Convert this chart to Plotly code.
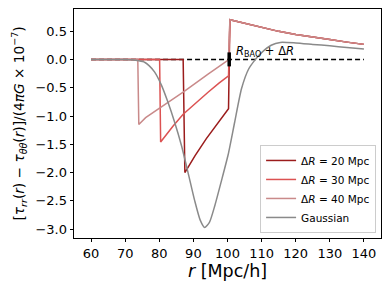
import plotly.graph_objects as go

# ---- data ----
r_tail = [100.7, 105, 110, 115, 120, 125, 130, 135, 140]
v_tail = [0.70, 0.635, 0.56, 0.495, 0.44, 0.39, 0.35, 0.305, 0.265]

r_20 = [60, 87.0, 87.5, 90.5, 93.8, 97.0, 100.3]
v_20 = [0, 0, -2.0, -1.70, -1.40, -1.13, -0.87]

r_30 = [60, 80.1, 80.4, 84.0, 87.0, 90.5, 94.3, 97.5, 100.3]
v_30 = [0, 0, -1.46, -1.18, -0.97, -0.78, -0.58, -0.42, -0.29]

r_40 = [60, 73.7, 74.0, 76.0, 80.3, 87.0, 94.3, 100.3]
v_40 = [0, 0, -1.15, -1.03, -0.85, -0.58, -0.26, -0.01]

r_gauss = [60, 65, 70, 72, 74, 75.7, 77, 78.6, 80.6, 82.5, 84.5, 86.5, 88.4, 90.4,
           92, 93.3, 94.7, 96.3, 98.2, 100.2, 102.1, 104.1, 106.2, 108.2, 110,
           112.8, 115.5, 120, 125, 130, 135, 140]
v_gauss = [0, 0, -0.002, -0.008, -0.025, -0.05, -0.11, -0.22, -0.45, -0.75, -1.11,
           -1.52, -1.99, -2.50, -2.84, -2.97, -2.88, -2.58, -2.15, -1.68, -1.11,
           -0.52, -0.17, 0.0, 0.12, 0.25, 0.30, 0.29, 0.265, 0.24, 0.21, 0.185]

zero_r = [60, 140]
zero_v = [0, 0]
r_bao = [100.5]
v_bao = [0]

labels = ["Δ<i>R</i> = 20 Mpc", "Δ<i>R</i> = 30 Mpc", "Δ<i>R</i> = 40 Mpc", "Gaussian"]
colors = ["#9b1c1c", "#dc5252", "#c98a8a", "#8a8a8a"]

FONT = "DejaVu Sans"

fig = go.Figure()

fig.add_trace(go.Scatter(x=zero_r, y=zero_v, mode="lines",
                         line=dict(color="black", width=1.5, dash="5px,3px"),
                         showlegend=False, hoverinfo="skip"))

for rr, vv, lab, col in [(r_20, v_20, labels[0], colors[0]),
                         (r_30, v_30, labels[1], colors[1]),
                         (r_40, v_40, labels[2], colors[2])]:
    fig.add_trace(go.Scatter(x=rr + r_tail, y=vv + v_tail, mode="lines",
                             line=dict(color=col, width=1.5), name=lab))

fig.add_trace(go.Scatter(x=r_gauss, y=v_gauss, mode="lines",
                         line=dict(color=colors[3], width=1.5, shape="spline", smoothing=0.6),
                         name=labels[3]))

fig.add_trace(go.Scatter(x=r_bao, y=v_bao, mode="markers",
                         marker=dict(symbol="line-ns", size=10,
                                     line=dict(color="black", width=3.5)),
                         showlegend=False, hoverinfo="skip"))

fig.add_annotation(x=102.0, y=0.145, xref="x", yref="y",
                   text="<i>R</i><sub>BAO</sub> + Δ<i>R</i>", showarrow=False,
                   xanchor="left", yanchor="middle",
                   font=dict(family=FONT, size=11.5, color="black"))

axis_common = dict(showline=True, linecolor="black", linewidth=0.8, mirror=True,
                   ticks="outside", ticklen=3.5, tickwidth=0.8, tickcolor="black",
                   showgrid=False, zeroline=False, automargin=False,
                   tickfont=dict(family=FONT, size=13, color="black"))

fig.update_xaxes(range=[55, 145], tickvals=[60, 70, 80, 90, 100, 110, 120, 130, 140],
                 title=dict(text="<i>r</i> [Mpc/h]", font=dict(family=FONT, size=17.5, color="black"),
                            standoff=4),
                 **axis_common)
fig.update_yaxes(range=[-3.155, 0.89],
                 tickvals=[0.5, 0.0, -0.5, -1.0, -1.5, -2.0, -2.5, -3.0],
                 ticktext=["0.5", "0.0", "−0.5", "−1.0", "−1.5", "−2.0", "−2.5", "−3.0"],
                 title=dict(text="[<i>τ</i><sub><i>rr</i></sub>(<i>r</i>) − <i>τ</i><sub><i>θθ</i></sub>(<i>r</i>)]/(4<i>πG</i> × 10<sup>−7</sup>)",
                            font=dict(family=FONT, size=13.7, color="black"), standoff=7),
                 **axis_common)

fig.update_layout(
    width=390, height=292,
    margin=dict(l=74, r=9, t=9, b=54),
    paper_bgcolor="white", plot_bgcolor="white",
    font=dict(family=FONT, color="black"),
    legend=dict(x=0.984, y=0.022, xanchor="right", yanchor="bottom",
                bgcolor="rgba(255,255,255,0.85)", bordercolor="#cccccc", borderwidth=1,
                font=dict(family=FONT, size=10.5, color="black"),
                itemwidth=30, tracegroupgap=0),
)

fig.write_html("out.html", config={"displayModeBar": False},
               post_script="document.body.style.margin='0';document.body.style.padding='0';")
